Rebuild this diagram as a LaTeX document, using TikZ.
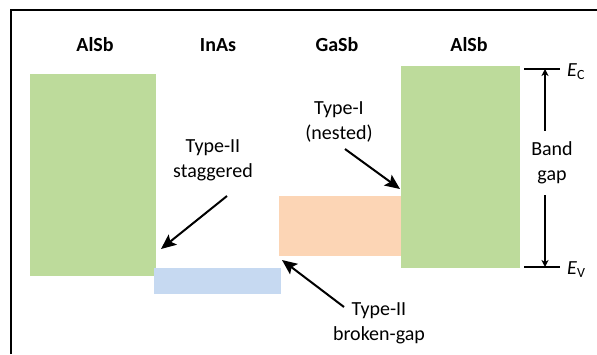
\documentclass[tikz,border=0pt]{standalone}
\usepackage{fontspec}
\setmainfont{Carlito}
\usetikzlibrary{arrows.meta}

\definecolor{algreen}{RGB}{189,219,155}
\definecolor{inblue}{RGB}{198,217,241}
\definecolor{gaorange}{RGB}{252,213,181}

\tikzset{
  band/.style={inner sep=0pt, outer sep=0pt, anchor=north west},
  mat/.style={font=\fontsize{20}{25}\selectfont\bfseries},
  lbl/.style={align=center, inner sep=0pt},
  bigarrow/.style={line width=2pt, -{Stealth[length=15pt,width=13pt,inset=3pt]}},
  gaparrow/.style={line width=1.2pt, -{Stealth[length=7pt,width=7pt,inset=2pt]}}
}

\begin{document}
\begin{tikzpicture}[x=1pt, y=-1pt, font=\fontsize{20}{25}\selectfont]
\useasboundingbox (0,0) rectangle (597,354);
% 边框
\draw[line width=2pt] (11,354) -- (11,10) -- (597,10);

% 材料名称
\node[mat] (tAlSbL) at (95,45) {AlSb};
\node[mat] (tInAs) at (218,45) {InAs};
\node[mat] (tGaSb) at (337,45) {GaSb};
\node[mat] (tAlSbR) at (469,45) {AlSb};

% 能带
\node[band, fill=algreen, minimum width=126pt, minimum height=202pt] (AlSbL) at (30,74) {};
\node[band, fill=inblue, minimum width=127pt, minimum height=26pt] (InAs) at (154,268) {};
\node[band, fill=gaorange, minimum width=122pt, minimum height=60pt] (GaSb) at (279,196) {};
\node[band, fill=algreen, minimum width=119pt, minimum height=202pt] (AlSbR) at (401,66) {};

% Ec, Ev 及带隙
\draw[line width=2pt] (524,69) coordinate (ecL) -- (560,69) coordinate (ecR);
\draw[line width=2pt] (524,267) coordinate (evL) -- (560,267) coordinate (evR);
\node[anchor=west, inner sep=0pt] (Ec) at (567,72) {\textit{E}\textsubscript{C}};
\node[anchor=west, inner sep=0pt] (Ev) at (567,270) {\textit{E}\textsubscript{V}};
\node[lbl, minimum height=64pt] (gap) at (552,163) {Band\\gap};
\draw[gaparrow] (gap.north -| 545,0) -- (545,69);
\draw[gaparrow] (gap.south -| 545,0) -- (545,267);

% 异质结类型
\node[lbl] (stag) at (213,160) {Type-II\\staggered};
\node[lbl] (nest) at (339,122) {Type-I\\(nested)};
\node[lbl] (broken) at (379,323) {Type-II\\broken-gap};
\coordinate (stagA) at (227,196);
\coordinate (stagB) at (161,249);
\coordinate (nestA) at (345,149);
\coordinate (nestB) at (400,189);
\coordinate (brokA) at (344,307);
\coordinate (brokB) at (282,260);
\draw[bigarrow] (stagA) -- (stagB);
\draw[bigarrow] (nestA) -- (nestB);
\draw[bigarrow] (brokA) -- (brokB);
\end{tikzpicture}
\end{document}
